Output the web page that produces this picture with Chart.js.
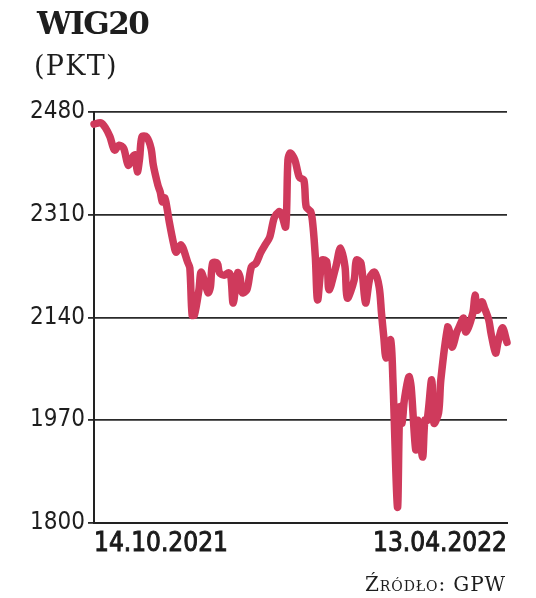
<!DOCTYPE html>
<html>
<head>
<meta charset="utf-8">
<script src="https://cdn.jsdelivr.net/npm/chart.js@4"></script>
<style>
  html, body { margin: 0; padding: 0; background: #fff; }
  #wrap { position: relative; width: 536px; height: 598px; overflow: hidden; }
  #c { position: absolute; left: 0; top: 0; }
  .t { position: absolute; color: #1e1e1e; white-space: nowrap; }
  #title { left: 37px; top: 8px; font: bold 31px/31px "DejaVu Serif", serif; letter-spacing: -1.5px; }
  #unit { left: 34px; top: 52px; font: normal 27px/27px "DejaVu Serif", serif; letter-spacing: 1.3px; }
  #src { right: 30px; top: 574px; font: normal 20px/20px "DejaVu Serif", serif; font-variant: small-caps; letter-spacing: 0.9px; }
</style>
</head>
<body>
<div id="wrap">
  <canvas id="c" width="536" height="598"></canvas>
  <div class="t" id="title">WIG20</div>
  <div class="t" id="unit">(PKT)</div>
  <div class="t" id="src">Źródło: GPW</div>
</div>
<script>
// Calendar days since 14.10.2021 and WIG20 closing levels (points)
const days = [0,3,5,7,9,11,13,15,17,18,19,20,21,23,25,26,28,29,30,31,32,33,35,36,38,39,41,42,43,44,46,47,50,51,52,54,55,57,59,60,61,63,64,65,67,69,71,73,75,77,79,81,82,84,85,86,88,90,92,93,95,96,97,98,100,102,103,106,108,110,111,114,115,117,119,121,123,125,126,127,128,130,131,133,134,135,136,138,139,141,142,144,145,146,148,149,151,152,155,156,157,159,160,162,163,166,167,168,170,171,173,174,176,177,179,181];
const values = [2460,2462,2454,2439,2417,2425,2420,2392,2406,2409,2381,2404,2439,2439,2420,2392,2359,2348,2331,2338,2321,2298,2260,2248,2260,2255,2232,2222,2144,2144,2186,2215,2181,2190,2230,2230,2214,2210,2214,2207,2164,2214,2207,2181,2186,2224,2230,2247,2260,2273,2305,2315,2313,2290,2401,2412,2401,2372,2367,2323,2315,2290,2240,2169,2235,2232,2186,2224,2255,2224,2172,2202,2235,2230,2164,2207,2215,2190,2147,2108,2073,2103,2037,1826,1992,1965,2003,2042,2025,1921,1970,1909,1970,1970,2037,1965,1982,2037,2124,2114,2091,2116,2124,2139,2116,2147,2177,2152,2166,2157,2136,2114,2081,2098,2123,2099,2106];
const yTicks = [1800, 1970, 2140, 2310, 2480];
const xTickDays = [0, 181];
const xTickLabels = ['14.10.2021', '13.04.2022'];

const points = days.map((d, i) => ({ x: d, y: values[i] }));
const narrow = '"DejaVu Sans Condensed", "DejaVu Sans", sans-serif';

new Chart(document.getElementById('c'), {
  type: 'line',
  data: {
    datasets: [{
      label: 'WIG20',
      data: points,
      borderColor: '#cf3a5c',
      borderWidth: 7.5,
      borderCapStyle: 'round',
      borderJoinStyle: 'round',
      pointRadius: 0,
      tension: 0.3,
      fill: false,
      clip: false
    }]
  },
  options: {
    responsive: false,
    devicePixelRatio: 1,
    animation: false,
    layout: { padding: { top: 112, right: 29, left: 0, bottom: 0 } },
    plugins: { legend: { display: false }, tooltip: { enabled: false }, title: { display: false } },
    scales: {
      x: {
        type: 'linear',
        min: xTickDays[0],
        max: xTickDays[xTickDays.length - 1],
        afterBuildTicks: (s) => { s.ticks = xTickDays.map(v => ({ value: v })); },
        afterFit: (s) => { s.height = 75; },
        grid: { display: false, drawTicks: false },
        border: { display: true, color: '#222', width: 2 },
        ticks: {
          align: 'inner',
          maxRotation: 0,
          autoSkip: false,
          padding: 6,
          color: '#1a1a1a',
          textStrokeColor: '#1a1a1a',
          textStrokeWidth: 0.9,
          font: { family: narrow, size: 26, weight: 'normal' },
          callback: (v) => { const i = xTickDays.indexOf(v); return i >= 0 ? xTickLabels[i] : ''; }
        }
      },
      y: {
        min: yTicks[0],
        max: yTicks[yTicks.length - 1],
        afterBuildTicks: (s) => { s.ticks = yTicks.map(v => ({ value: v })); },
        afterFit: (s) => { s.width = 94; },
        grid: { color: '#2a2a2a', lineWidth: 1.8, drawTicks: true, tickLength: 6 },
        border: { display: true, color: '#222', width: 2 },
        ticks: {
          padding: 3,
          color: '#1e1e1e',
          font: { family: narrow, size: 24 },
          callback: (v) => String(v)
        }
      }
    }
  }
});
</script>
</body>
</html>
